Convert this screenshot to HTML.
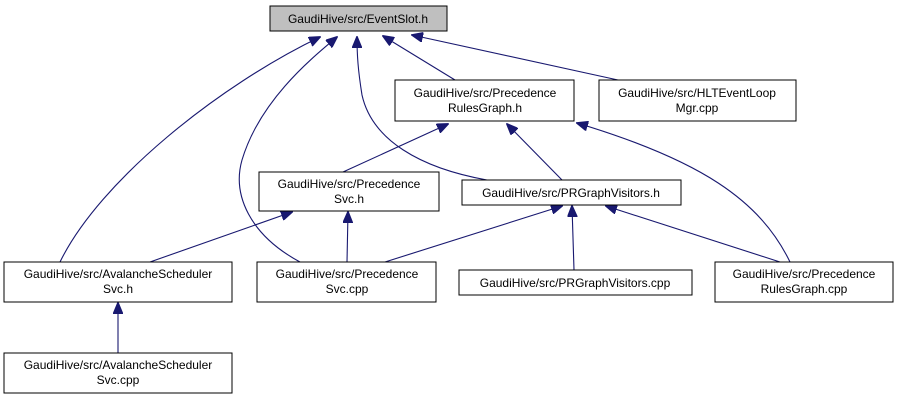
<!DOCTYPE html>
<html><head><meta charset="utf-8"><style>
body{margin:0;background:#fff}
svg{display:block}
text{font-family:"Liberation Sans",sans-serif;font-size:12px;fill:#000;text-anchor:middle}
rect{stroke:#000;stroke-width:1;fill:#fff}
path{fill:none;stroke:#191970;stroke-width:1.1}
</style></head><body>
<svg width="900" height="400" viewBox="0 0 900 400" xmlns="http://www.w3.org/2000/svg">
<defs><marker id="a" markerWidth="12" markerHeight="10" refX="11" refY="5" orient="auto" markerUnits="userSpaceOnUse"><polygon points="0,0 12,5 0,10" fill="#191970" stroke="#191970"/></marker></defs>
<g>
<path d="M60,262 C100,180 220,85 320,37" marker-end="url(#a)"/>
<path d="M300,262 C250,235 232,195 242,160 C260,100 312,58 337,37" marker-end="url(#a)"/>
<path d="M487,180 C420,168 372,140 362,95 C358,70 357,55 357,37" marker-end="url(#a)"/>
<path d="M455,80 L383,36" marker-end="url(#a)"/>
<path d="M618,80 L412,35" marker-end="url(#a)"/>
<path d="M343,172 L448,124" marker-end="url(#a)"/>
<path d="M562,180 L507,124" marker-end="url(#a)"/>
<path d="M790,262 C760,200 700,160 577,123" marker-end="url(#a)"/>
<path d="M150,262 L292,212" marker-end="url(#a)"/>
<path d="M347,262 L348,212" marker-end="url(#a)"/>
<path d="M385,262 L562,206" marker-end="url(#a)"/>
<path d="M574,270 L572,206" marker-end="url(#a)"/>
<path d="M780,262 L606,206" marker-end="url(#a)"/>
<path d="M118,353 L118,303" marker-end="url(#a)"/>
</g>
<rect x="270" y="6" width="177" height="25" style="fill:#bfbfbf"/>
<text x="358" y="23">GaudiHive/src/EventSlot.h</text>
<rect x="395" y="80" width="179" height="41"/>
<text x="485" y="97">GaudiHive/src/Precedence</text><text x="485" y="112">RulesGraph.h</text>
<rect x="599" y="80" width="197" height="41"/>
<text x="697" y="97">GaudiHive/src/HLTEventLoop</text><text x="697" y="112">Mgr.cpp</text>
<rect x="259" y="172" width="180" height="39"/>
<text x="349" y="188">GaudiHive/src/Precedence</text><text x="349" y="203">Svc.h</text>
<rect x="462" y="180" width="219" height="25"/>
<text x="571" y="197">GaudiHive/src/PRGraphVisitors.h</text>
<rect x="4" y="262" width="228" height="40"/>
<text x="118" y="278">GaudiHive/src/AvalancheScheduler</text><text x="118" y="293">Svc.h</text>
<rect x="257" y="262" width="179" height="40"/>
<text x="347" y="278">GaudiHive/src/Precedence</text><text x="347" y="293">Svc.cpp</text>
<rect x="459" y="270" width="233" height="25"/>
<text x="575" y="287">GaudiHive/src/PRGraphVisitors.cpp</text>
<rect x="715" y="262" width="178" height="40"/>
<text x="804" y="278">GaudiHive/src/Precedence</text><text x="804" y="293">RulesGraph.cpp</text>
<rect x="4" y="353" width="228" height="40"/>
<text x="118" y="369">GaudiHive/src/AvalancheScheduler</text><text x="118" y="384">Svc.cpp</text>
</svg>
</body></html>
